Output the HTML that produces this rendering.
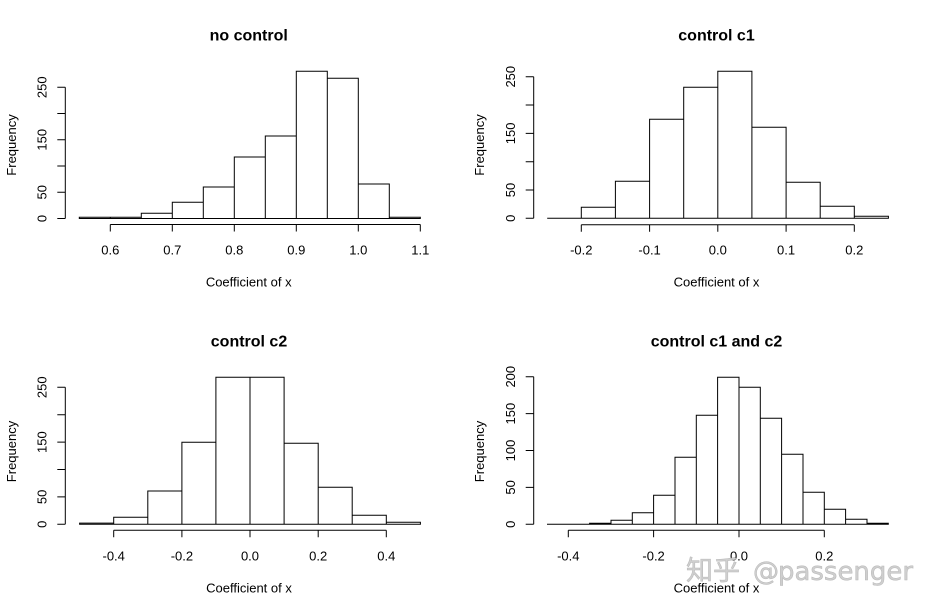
<!DOCTYPE html>
<html><head><meta charset="utf-8"><style>
html,body{margin:0;padding:0;background:#fff;}
svg{display:block;}
text{font-family:"Liberation Sans",Arial,sans-serif;fill:#000;}
.t{font-size:16px;font-weight:bold;text-anchor:middle;}
.k{font-size:13px;text-anchor:middle;}
.l{font-size:13px;text-anchor:middle;}
</style></head><body>
<svg width="936" height="612" viewBox="0 0 936 612" xmlns="http://www.w3.org/2000/svg">
<rect width="936" height="612" fill="#fff"/>
<g fill="#fff" stroke="#000" stroke-width="1">
<!-- Panel 1 bars, baseline 218.5 -->
<path d="M79.3 218.5V217.3H110.3V218.5Z M110.3 218.5V217.3H141.3V218.5Z M141.3 218.5V213.3H172.3V218.5Z M172.3 218.5V202.3H203.3V218.5Z M203.3 218.5V187H234.3V218.5Z M234.3 218.5V157H265.3V218.5Z M265.3 218.5V136H296.3V218.5Z M296.3 218.5V71.3H327.3V218.5Z M327.3 218.5V78.3H358.3V218.5Z M358.3 218.5V184H389.3V218.5Z M389.3 218.5V217.3H420.3V218.5Z"/>
<!-- Panel 2 bars, baseline 218.3 -->
<path d="M547.2 218.3H581.3Z M581.3 218.3V207.3H615.4V218.3Z M615.4 218.3V181.3H649.6V218.3Z M649.6 218.3V119.3H683.7V218.3Z M683.7 218.3V87.3H717.8V218.3Z M717.8 218.3V71.3H751.9V218.3Z M751.9 218.3V127.3H786.1V218.3Z M786.1 218.3V182.3H820.2V218.3Z M820.2 218.3V206.3H854.3V218.3Z M854.3 218.3V216.3H888.4V218.3Z"/>
<!-- Panel 3 bars, baseline 524.3 -->
<path d="M79.6 524.3V523.1H113.7V524.3Z M113.7 524.3V517.3H147.8V524.3Z M147.8 524.3V491H181.9V524.3Z M181.9 524.3V442.3H215.9V524.3Z M215.9 524.3V377.3H250V524.3Z M250 524.3V377.3H284.1V524.3Z M284.1 524.3V443.3H318.2V524.3Z M318.2 524.3V487.3H352.2V524.3Z M352.2 524.3V515.3H386.3V524.3Z M386.3 524.3V522.3H420.4V524.3Z"/>
<!-- Panel 4 bars, baseline 524.3 -->
<path d="M547 524.3H589.6Z M589.6 524.3V523.3H611V524.3Z M611 524.3V520.3H632.3V524.3Z M632.3 524.3V512.7H653.6V524.3Z M653.6 524.3V495.3H675V524.3Z M675 524.3V457.3H696.3V524.3Z M696.3 524.3V415.3H717.6V524.3Z M717.6 524.3V377.3H739V524.3Z M739 524.3V387.3H760.3V524.3Z M760.3 524.3V418.3H781.6V524.3Z M781.6 524.3V454.3H803V524.3Z M803 524.3V492.3H824.3V524.3Z M824.3 524.3V509.3H845.6V524.3Z M845.6 524.3V519.3H867V524.3Z M867 524.3V523.3H888.3V524.3Z"/>
</g>
<g fill="none" stroke="#000" stroke-width="1">
<!-- P1 axes -->
<path d="M65.3 218.5V87.3 M65.3 218.5H57.3 M65.3 192.3H57.3 M65.3 166H57.3 M65.3 139.8H57.3 M65.3 113.5H57.3 M65.3 87.3H57.3"/>
<path d="M110.3 224.5H420.3 M110.3 224.5V231.5 M172.3 224.5V231.5 M234.3 224.5V231.5 M296.3 224.5V231.5 M358.3 224.5V231.5 M420.3 224.5V231.5"/>
<!-- P2 axes -->
<path d="M533.7 218.3V76.7 M533.7 218.3H525.7 M533.7 190H525.7 M533.7 161.7H525.7 M533.7 133.4H525.7 M533.7 105H525.7 M533.7 76.7H525.7"/>
<path d="M581.3 224.7H854.3 M581.3 224.7V231.7 M649.6 224.7V231.7 M717.8 224.7V231.7 M786.1 224.7V231.7 M854.3 224.7V231.7"/>
<!-- P3 axes -->
<path d="M65.3 524.3V387.3 M65.3 524.3H57.3 M65.3 496.9H57.3 M65.3 469.5H57.3 M65.3 442.1H57.3 M65.3 414.7H57.3 M65.3 387.3H57.3"/>
<path d="M113.7 530.3H386.3 M113.7 530.3V537.3 M181.9 530.3V537.3 M250 530.3V537.3 M318.2 530.3V537.3 M386.3 530.3V537.3"/>
<!-- P4 axes -->
<path d="M533.7 524.3V376.7 M533.7 524.3H525.7 M533.7 487.4H525.7 M533.7 450.5H525.7 M533.7 413.6H525.7 M533.7 376.7H525.7"/>
<path d="M568.3 530.3H824.3 M568.3 530.3V537.3 M653.6 530.3V537.3 M739 530.3V537.3 M824.3 530.3V537.3"/>
</g>

<!-- Titles -->
<text class="t" x="248.7" y="40.5">no control</text>
<text class="t" x="716.5" y="40.5">control c1</text>
<text class="t" x="249" y="346.3">control c2</text>
<text class="t" x="716.5" y="346.3">control c1 and c2</text>

<!-- Y labels -->
<text class="l" transform="translate(15.8,145) rotate(-90)">Frequency</text>
<text class="l" transform="translate(483.8,145) rotate(-90)">Frequency</text>
<text class="l" transform="translate(15.8,451.5) rotate(-90)">Frequency</text>
<text class="l" transform="translate(483.8,451.5) rotate(-90)">Frequency</text>

<!-- X labels -->
<text class="l" x="248.7" y="286.5">Coefficient of x</text>
<text class="l" x="716.5" y="286.5">Coefficient of x</text>
<text class="l" x="249" y="592.3">Coefficient of x</text>
<text class="l" x="716.5" y="592.3">Coefficient of x</text>

<!-- P1 y ticks -->
<text class="k" transform="translate(46.7,218.5) rotate(-90)">0</text>
<text class="k" transform="translate(46.7,192.3) rotate(-90)">50</text>
<text class="k" transform="translate(46.7,139.8) rotate(-90)">150</text>
<text class="k" transform="translate(46.7,87.3) rotate(-90)">250</text>
<!-- P2 y ticks -->
<text class="k" transform="translate(515,218.3) rotate(-90)">0</text>
<text class="k" transform="translate(515,190) rotate(-90)">50</text>
<text class="k" transform="translate(515,133.4) rotate(-90)">150</text>
<text class="k" transform="translate(515,76.7) rotate(-90)">250</text>
<!-- P3 y ticks -->
<text class="k" transform="translate(46.7,524.3) rotate(-90)">0</text>
<text class="k" transform="translate(46.7,496.9) rotate(-90)">50</text>
<text class="k" transform="translate(46.7,442.1) rotate(-90)">150</text>
<text class="k" transform="translate(46.7,387.3) rotate(-90)">250</text>
<!-- P4 y ticks -->
<text class="k" transform="translate(515,524.3) rotate(-90)">0</text>
<text class="k" transform="translate(515,487.4) rotate(-90)">50</text>
<text class="k" transform="translate(515,450.5) rotate(-90)">100</text>
<text class="k" transform="translate(515,413.6) rotate(-90)">150</text>
<text class="k" transform="translate(515,376.7) rotate(-90)">200</text>

<!-- P1 x ticks -->
<text class="k" x="110.3" y="254.5">0.6</text>
<text class="k" x="172.3" y="254.5">0.7</text>
<text class="k" x="234.3" y="254.5">0.8</text>
<text class="k" x="296.3" y="254.5">0.9</text>
<text class="k" x="358.3" y="254.5">1.0</text>
<text class="k" x="420.3" y="254.5">1.1</text>
<!-- P2 x ticks -->
<text class="k" x="581.3" y="254.5">-0.2</text>
<text class="k" x="649.6" y="254.5">-0.1</text>
<text class="k" x="717.8" y="254.5">0.0</text>
<text class="k" x="786.1" y="254.5">0.1</text>
<text class="k" x="854.3" y="254.5">0.2</text>
<!-- P3 x ticks -->
<text class="k" x="113.7" y="560.3">-0.4</text>
<text class="k" x="181.9" y="560.3">-0.2</text>
<text class="k" x="250" y="560.3">0.0</text>
<text class="k" x="318.2" y="560.3">0.2</text>
<text class="k" x="386.3" y="560.3">0.4</text>
<!-- P4 x ticks -->
<text class="k" x="568.3" y="560.3">-0.4</text>
<text class="k" x="653.6" y="560.3">-0.2</text>
<text class="k" x="739" y="560.3">0.0</text>
<text class="k" x="824.3" y="560.3">0.2</text>

<!-- Watermark -->
<g opacity="0.95">
<text x="686" y="580" style="font-family:'Noto Sans CJK SC','WenQuanYi Zen Hei',sans-serif;font-size:27px;fill:#cdcdcd;stroke:#b4b4b4;stroke-width:0.5">知乎</text>
<text x="753" y="580" style="font-family:'DejaVu Sans',sans-serif;font-size:26px;fill:#cdcdcd;stroke:#b4b4b4;stroke-width:0.5">@</text>
<text x="778" y="580" textLength="135" lengthAdjust="spacingAndGlyphs" style="font-family:'DejaVu Sans',sans-serif;font-size:26px;fill:#cdcdcd;stroke:#b4b4b4;stroke-width:0.5">passenger</text>
</g>
</svg>
</body></html>
